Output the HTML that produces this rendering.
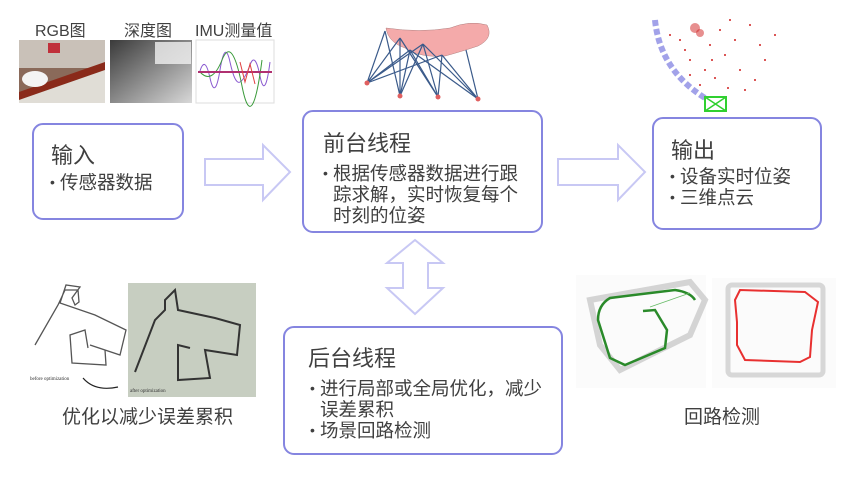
<!DOCTYPE html>
<html><head><meta charset="utf-8"><style>
body{margin:0;width:842px;height:480px;background:#fff;position:relative;overflow:hidden;font-family:"Liberation Sans","Noto Sans CJK SC",sans-serif;color:#404040}
.box{position:absolute;border:2.5px solid #8585e0;border-radius:11px;box-sizing:border-box;background:#fff}
.t{position:absolute;font-size:22px;white-space:nowrap}
.b{position:absolute;font-size:18.5px;line-height:21px;white-space:nowrap;padding-left:10px}
.b i{font-style:normal;position:absolute;left:0;font-size:14px}
.lab{position:absolute;font-size:16px;white-space:nowrap;color:#404040}
</style></head><body>
<div class="lab" style="left:35px;top:17px">RGB图</div>
<div class="lab" style="left:124px;top:17px">深度图</div>
<div class="lab" style="left:195px;top:17px">IMU测量值</div>
<svg width="842" height="480" style="position:absolute;left:0;top:0">
<rect x="19" y="40" width="86" height="63" fill="#8a6a5a"/>
<rect x="19" y="40" width="86" height="28" fill="#c9c1b8"/>
<polygon points="19,92 105,62 105,70 19,100" fill="#8a2a1a"/>
<polygon points="19,100 105,70 105,103 19,103" fill="#e0ddd6"/>
<ellipse cx="35" cy="79" rx="13" ry="8" fill="#f4f4f4"/>
<rect x="48" y="43" width="12" height="10" fill="#c0303a"/>
<defs><linearGradient id="dg" x1="0" y1="0" x2="1" y2="1"><stop offset="0" stop-color="#3a3a3a"/><stop offset="1" stop-color="#d8d8d8"/></linearGradient></defs>
<rect x="110" y="40" width="82" height="63" fill="url(#dg)"/>
<rect x="155" y="42" width="36" height="22" fill="#f0f0f0" opacity=".8"/>
<rect x="196" y="40" width="78" height="63" fill="#fff" stroke="#ddd"/>
<path d="M200 71 Q205 55 210 78 T220 70 T230 62 T240 82 T250 65 T260 76 T270 62" fill="none" stroke="#8a5ad0" stroke-width="1"/>
<path d="M200 72 Q212 85 222 60 T242 86 T262 60" fill="none" stroke="#3a9a3a" stroke-width="1"/>
<path d="M198 72 H272" stroke="#b03070" stroke-width="2"/>
<path d="M240 62 L245 82 L250 64 L255 84" fill="none" stroke="#e04040" stroke-width="1"/>
<path d="M386 28 Q420 33 450 28 Q470 20 487 25 Q494 38 478 46 Q460 52 445 56 Q420 58 405 48 Q388 42 386 28Z" fill="#f4aaaa" stroke="#b08080" stroke-width=".5"/>
<g stroke="#3a5a8a" stroke-width="1.2">
<line x1="385" y1="31" x2="367" y2="83"/><line x1="385" y1="31" x2="400" y2="96"/>
<line x1="400" y1="38" x2="367" y2="83"/><line x1="400" y1="38" x2="400" y2="96"/><line x1="400" y1="38" x2="438" y2="97"/>
<line x1="410" y1="50" x2="367" y2="83"/><line x1="410" y1="50" x2="400" y2="96"/><line x1="410" y1="50" x2="438" y2="97"/><line x1="410" y1="50" x2="478" y2="99"/>
<line x1="423" y1="44" x2="367" y2="83"/><line x1="423" y1="44" x2="400" y2="96"/><line x1="423" y1="44" x2="438" y2="97"/><line x1="423" y1="44" x2="478" y2="99"/>
<line x1="442" y1="55" x2="367" y2="83"/><line x1="442" y1="55" x2="438" y2="97"/><line x1="442" y1="55" x2="478" y2="99"/>
<line x1="466" y1="50" x2="478" y2="99"/>
</g>
<g fill="#e06060"><circle cx="367" cy="83" r="2.5"/><circle cx="400" cy="96" r="2.5"/><circle cx="438" cy="97" r="2.5"/><circle cx="478" cy="99" r="2.5"/></g>
<g fill="#d02020">
<circle cx="695" cy="28" r="5" opacity=".5"/><circle cx="700" cy="33" r="4" opacity=".5"/>
<circle cx="680" cy="40" r="1"/><circle cx="710" cy="45" r="1"/><circle cx="720" cy="30" r="1"/><circle cx="735" cy="40" r="1"/><circle cx="750" cy="25" r="1"/><circle cx="690" cy="60" r="1"/><circle cx="705" cy="70" r="1"/><circle cx="725" cy="55" r="1"/><circle cx="740" cy="70" r="1"/><circle cx="760" cy="45" r="1"/><circle cx="775" cy="35" r="1"/><circle cx="700" cy="85" r="1"/><circle cx="745" cy="90" r="1"/><circle cx="715" cy="78" r="1"/><circle cx="685" cy="50" r="1"/><circle cx="730" cy="20" r="1"/><circle cx="765" cy="60" r="1"/><circle cx="755" cy="80" r="1"/><circle cx="690" cy="75" r="1"/><circle cx="670" cy="35" r="1"/><circle cx="712" cy="60" r="1"/><circle cx="728" cy="88" r="1"/>
</g>
<path d="M655 20 Q660 70 705 98" fill="none" stroke="#7a7ae0" stroke-width="6" stroke-dasharray="6 3" opacity=".7"/>
<rect x="705" y="97" width="21" height="14" fill="none" stroke="#30d030" stroke-width="2"/>
<path d="M705 97 L726 111 M726 97 L705 111" stroke="#30d030" stroke-width="1.5"/>
<polygon points="205,159 263,159 263,145 290,172 263,200 263,185 205,185" fill="none" stroke="#c8c8f4" stroke-width="2"/>
<polygon points="558,159 618,159 618,145 645,172 618,200 618,185 558,185" fill="none" stroke="#c8c8f4" stroke-width="2"/>
<polygon points="415,240 443,263 428,263 428,288 443,288 415,314 387,288 403,288 403,263 387,263" fill="none" stroke="#c8c8f4" stroke-width="2"/>
<path d="M35 345 L58 305 L65 290 L78 290 L79 302 L75 305 L72 298 L80 287 L66 285 L60 303 L95 315 L126 330 L120 355 L90 345 L105 350 L106 365 L72 363 L70 335 L85 330 L88 348" fill="none" stroke="#555" stroke-width="1.3"/>
<text x="30" y="380" font-size="5" fill="#333" font-family="Liberation Serif">before optimization</text>
<path d="M83 378 Q95 392 118 387" fill="none" stroke="#222" stroke-width="1.2"/>
<rect x="128" y="283" width="128" height="114" fill="#b8c2b2"/>
<rect x="128" y="283" width="128" height="114" fill="#d6dad0" opacity=".5"/>
<path d="M135 372 L155 320 L165 310 L165 300 L175 290 L178 310 L215 318 L240 325 L237 355 L205 350 L210 378 L178 380 L178 345 L190 348" fill="none" stroke="#333" stroke-width="2"/>
<text x="130" y="392" font-size="5" fill="#333" font-family="Liberation Serif">after optimization</text>
<rect x="576" y="275" width="130" height="113" fill="#fbfbfb"/>
<path d="M590 300 L690 282 L705 300 L690 335 L660 350 L620 370 L600 345 Z" fill="none" stroke="#bbb" stroke-width="6" opacity=".6"/>
<path d="M695 300 Q690 292 675 290 L610 298 Q598 305 598 320 L610 358 L625 365 L665 348 L667 330 L655 310 L643 311" fill="none" stroke="#2a8a2a" stroke-width="2.5"/>
<line x1="650" y1="307" x2="690" y2="293" stroke="#6b6" stroke-width=".8"/>
<rect x="712" y="278" width="124" height="110" fill="#fbfbfb"/>
<rect x="728" y="285" width="95" height="90" fill="none" stroke="#c0c0c0" stroke-width="5" opacity=".6" rx="4"/>
<path d="M740 290 L805 292 L818 302 L812 330 L810 357 L800 362 L745 360 L737 345 L737 322 L735 300 Z" fill="none" stroke="#e83030" stroke-width="2"/>
</svg>
<div class="box" style="left:32px;top:123px;width:152px;height:97px"></div>
<div class="t" style="left:51px;top:138px">输入</div>
<div class="b" style="left:50px;top:172px"><i>•</i>传感器数据</div>
<div class="box" style="left:302px;top:110px;width:241px;height:123px"></div>
<div class="t" style="left:323px;top:126px">前台线程</div>
<div class="b" style="left:323px;top:163px"><i>•</i>根据传感器数据进行跟<br>踪求解，实时恢复每个<br>时刻的位姿</div>
<div class="box" style="left:652px;top:117px;width:170px;height:113px"></div>
<div class="t" style="left:671px;top:133px">输出</div>
<div class="b" style="left:670px;top:166px"><i>•</i>设备实时位姿<br><i style="top:21px">•</i>三维点云</div>
<div class="box" style="left:283px;top:326px;width:280px;height:129px"></div>
<div class="t" style="left:308px;top:341px">后台线程</div>
<div class="b" style="left:310px;top:378px"><i>•</i>进行局部或全局优化，减少<br>误差累积<br><i style="top:42px">•</i>场景回路检测</div>
<div class="lab" style="left:62px;top:402px;font-size:19px">优化以减少误差累积</div>
<div class="lab" style="left:684px;top:402px;font-size:19px">回路检测</div>
</body></html>
